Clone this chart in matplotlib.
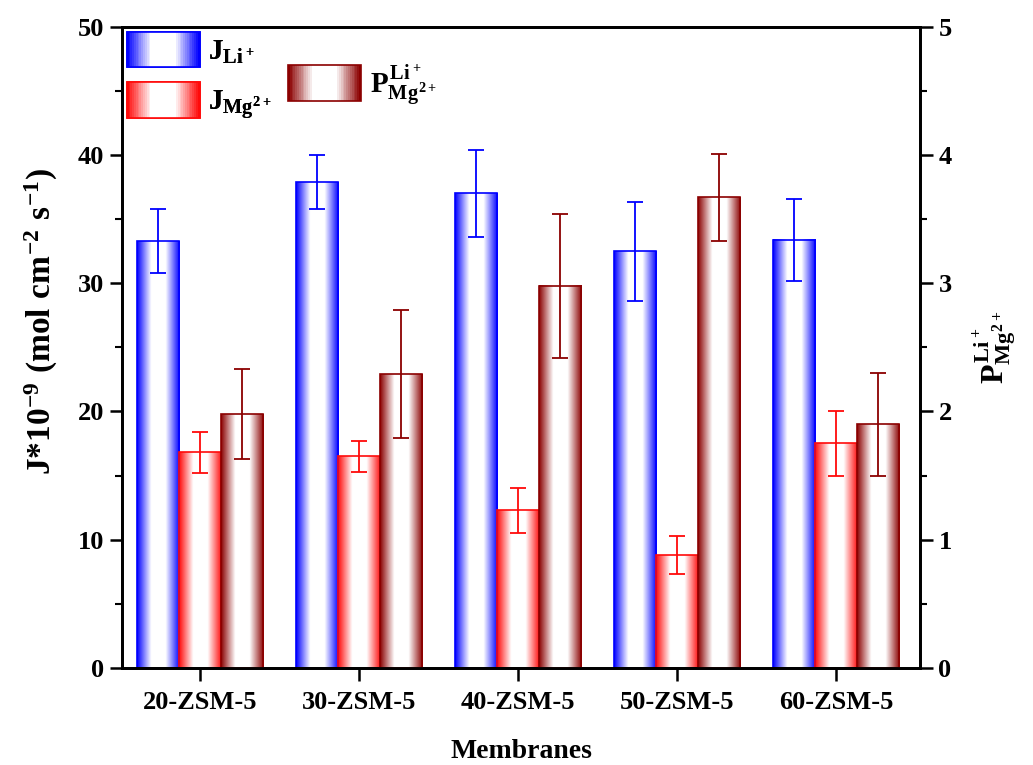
import numpy as np
import matplotlib
matplotlib.use('Agg')
import matplotlib.pyplot as plt
from matplotlib.colors import LinearSegmentedColormap
from matplotlib.legend_handler import HandlerBase
from matplotlib.patches import Rectangle, Patch
from matplotlib.ticker import MultipleLocator

plt.rcParams['font.family'] = 'Liberation Serif'
plt.rcParams['font.weight'] = 'bold'
plt.rcParams['mathtext.fontset'] = 'custom'
plt.rcParams['mathtext.rm'] = 'Liberation Serif:bold'
plt.rcParams['mathtext.it'] = 'Liberation Serif:bold'
plt.rcParams['mathtext.bf'] = 'Liberation Serif:bold'

membranes = ['20-ZSM-5', '30-ZSM-5', '40-ZSM-5', '50-ZSM-5', '60-ZSM-5']
j_li = [33.3, 37.9, 37.0, 32.5, 33.4]
j_li_err = [2.5, 2.1, 3.4, 3.85, 3.2]
j_mg = [16.8, 16.5, 12.3, 8.8, 17.5]
j_mg_err = [1.6, 1.2, 1.75, 1.5, 2.5]
p_sel = [1.98, 2.29, 2.98, 3.67, 1.90]
p_sel_err = [0.35, 0.50, 0.56, 0.34, 0.40]

blue = '#0000ff'
red = '#ff0a0a'
brown = '#8b0000'

def grad_cmap(c):
    return LinearSegmentedColormap.from_list('g', [c, 'white', 'white', c])

grad = np.linspace(0, 1, 256).reshape(1, -1)

def gradient_bars(ax, bars, c):
    cm = grad_cmap(c)
    for b in bars:
        x0, y0 = b.get_x(), b.get_y()
        w, h = b.get_width(), b.get_height()
        ax.imshow(grad, cmap=cm, extent=[x0, x0 + w, y0, y0 + h],
                  aspect='auto', zorder=1, interpolation='bilinear')

class GradientHandler(HandlerBase):
    def create_artists(self, legend, orig_handle, xdescent, ydescent,
                       width, height, fontsize, trans):
        c = orig_handle.get_edgecolor()
        cm = grad_cmap(c)
        n = 40
        arts = []
        for i in range(n):
            r = Rectangle((-xdescent + width * i / n, -ydescent), width / n + 0.3, height,
                          facecolor=cm(i / (n - 1)), edgecolor='none', transform=trans)
            arts.append(r)
        arts.append(Rectangle((-xdescent, -ydescent), width, height, facecolor='none',
                              edgecolor=c, lw=1.2, transform=trans))
        return arts

fig = plt.figure(figsize=(10.33, 7.65), dpi=100)
ax = fig.add_axes([0.118, 0.127, 0.773, 0.838])
ax2 = ax.twinx()

x = np.arange(len(membranes))
w = 0.265

b1 = ax.bar(x - w, j_li, w, facecolor='none', edgecolor=blue, lw=1.2, zorder=2)
b2 = ax.bar(x, j_mg, w, facecolor='none', edgecolor=red, lw=1.2, zorder=2)
b3 = ax2.bar(x + w, p_sel, w, facecolor='none', edgecolor=brown, lw=1.2, zorder=2)
gradient_bars(ax, b1, blue)
gradient_bars(ax, b2, red)
gradient_bars(ax2, b3, brown)

ekw = dict(fmt='none', elinewidth=1.3, capsize=5.5, capthick=1.3, zorder=3)
ax.errorbar(x - w, j_li, yerr=j_li_err, ecolor=blue, **ekw)
ax.errorbar(x, j_mg, yerr=j_mg_err, ecolor=red, **ekw)
ax2.errorbar(x + w, p_sel, yerr=p_sel_err, ecolor=brown, **ekw)

ax.set_xlim(-0.49, 4.53)
ax.set_ylim(0, 50)
ax2.set_ylim(0, 5)
ax.set_xticks(x)
ax.set_xticklabels(membranes)
ax.yaxis.set_major_locator(MultipleLocator(10))
ax.yaxis.set_minor_locator(MultipleLocator(5))
ax2.yaxis.set_major_locator(MultipleLocator(1))
ax2.yaxis.set_minor_locator(MultipleLocator(0.5))

for a in (ax, ax2):
    for s in a.spines.values():
        s.set_linewidth(2)
    a.tick_params(which='major', direction='out', length=9, width=1.8, labelsize=19, pad=4)
    a.tick_params(which='minor', direction='out', length=5, width=1.5)
ax.tick_params(axis='x', which='minor', bottom=False)
ax.tick_params(axis='x', pad=8)

ax.set_xlabel('Membranes', fontsize=20, fontweight='bold', labelpad=18)
ax.set_ylabel(r'$J{*}10^{-9}\ (mol\ cm^{-2}\ s^{-1})$', fontsize=24)
ax.yaxis.set_label_coords(-0.077, 0.54)
ax2.set_ylabel(r'$P^{Li^+}_{Mg^{2+}}$', fontsize=23, labelpad=14)

h1 = Patch(edgecolor=blue, facecolor='none')
h2 = Patch(edgecolor=red, facecolor='none')
h3 = Patch(edgecolor=brown, facecolor='none')
hm = {Patch: GradientHandler()}
leg1 = ax.legend([h1, h2], [r'$J_{Li^+}$', r'$J_{Mg^{2+}}$'], handler_map=hm,
                 loc='upper left', bbox_to_anchor=(0.006, 0.992), frameon=False,
                 fontsize=21, handlelength=2.5, handleheight=1.5, labelspacing=0.5,
                 handletextpad=0.3, borderpad=0, borderaxespad=0)
ax.add_artist(leg1)
leg2 = ax2.legend([h3], [r'$P^{Li^+}_{Mg^{2+}}$'], handler_map=hm,
                  loc='upper left', bbox_to_anchor=(0.208, 0.945), frameon=False,
                  fontsize=21, handlelength=2.5, handleheight=1.5,
                  handletextpad=0.3, borderpad=0, borderaxespad=0)

fig.savefig('out.png', dpi=100)
